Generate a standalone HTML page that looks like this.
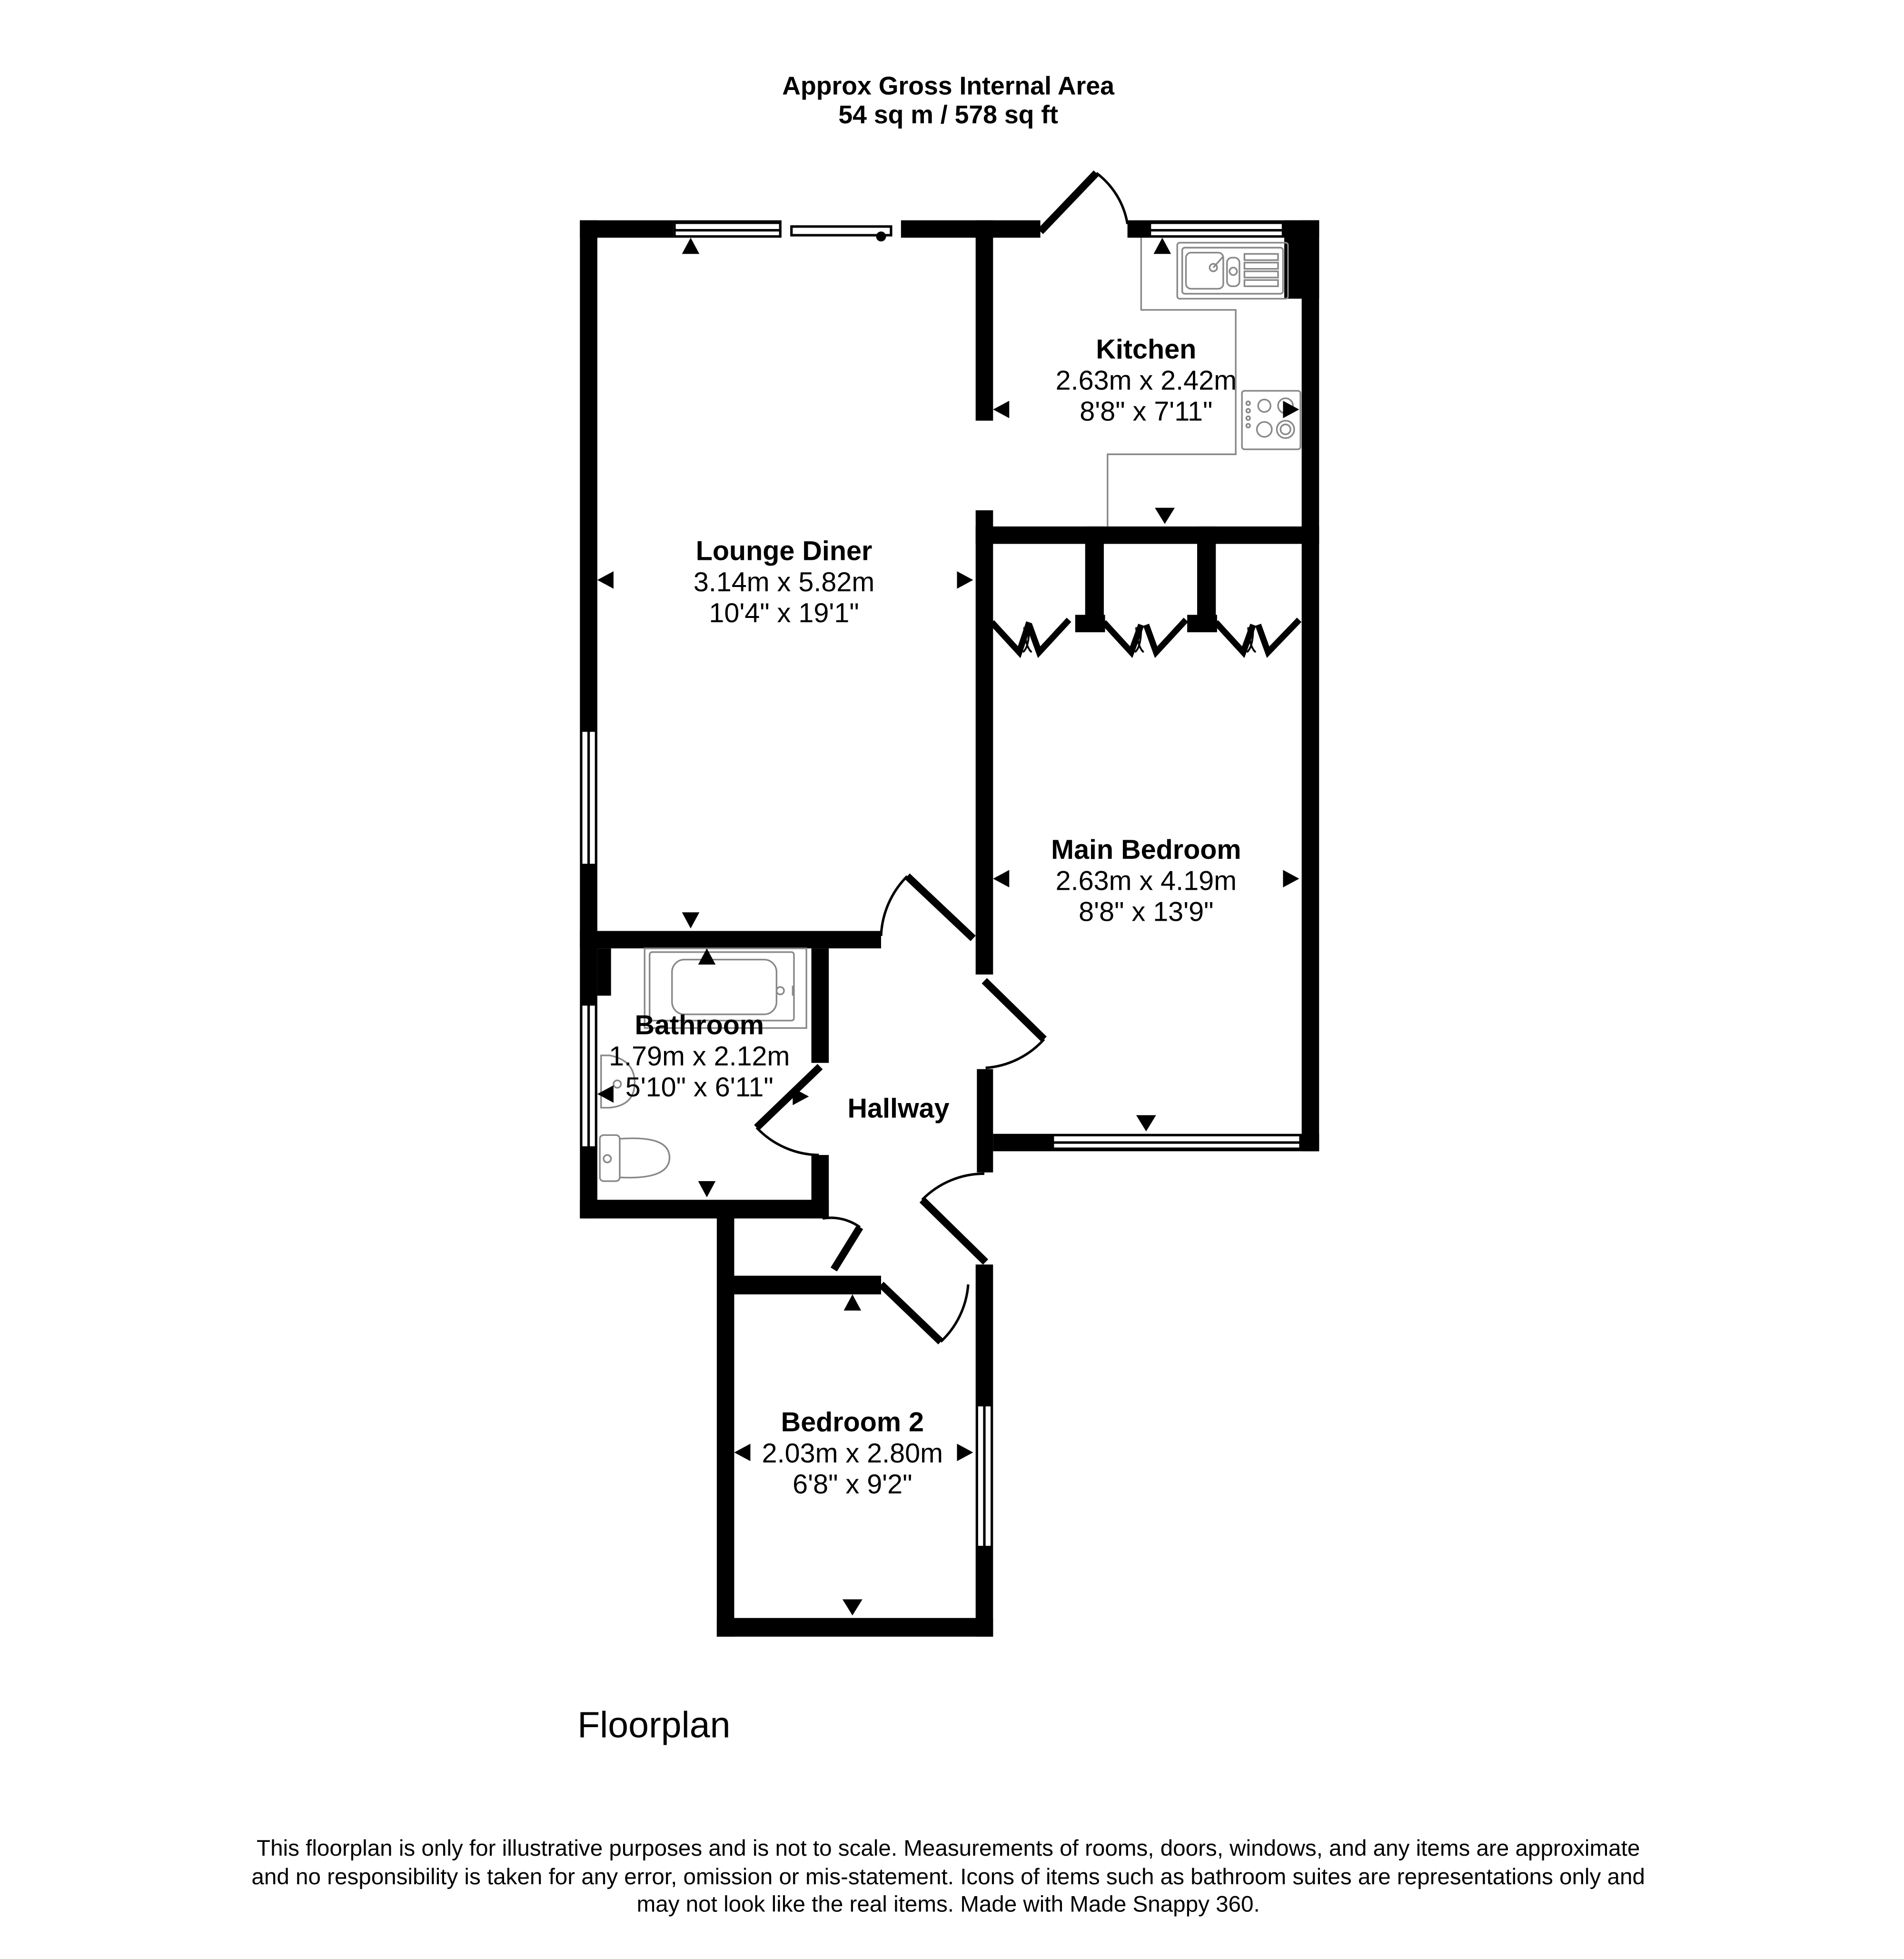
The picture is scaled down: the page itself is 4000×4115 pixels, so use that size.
<!DOCTYPE html>
<html><head><meta charset="utf-8"><style>
html,body{margin:0;padding:0;background:#fff}
svg{display:block}
text{font-family:"Liberation Sans",Arial,sans-serif;fill:#000}
</style></head><body>
<svg width="4000" height="4115" viewBox="0 0 1530 1574" xmlns="http://www.w3.org/2000/svg">
<rect width="1530" height="1574" fill="#fff"/>
<g fill="#000">
<rect x="466" y="177" width="14" height="802"/>
<rect x="466" y="177" width="75" height="14"/>
<rect x="541" y="177" width="87" height="14"/>
<rect x="724" y="177" width="112" height="14"/>
<rect x="906" y="177" width="154" height="14"/>
<rect x="1032" y="177" width="28" height="63"/>
<rect x="1046" y="177" width="14" height="748"/>
<rect x="784" y="177" width="14" height="161"/>
<rect x="784" y="410" width="14" height="351"/>
<rect x="784" y="761" width="14" height="22"/>
<rect x="784" y="423" width="276" height="14"/>
<rect x="872" y="423" width="15" height="75"/>
<rect x="962" y="423" width="15" height="75"/>
<rect x="864" y="494" width="24" height="14"/>
<rect x="954" y="494" width="24" height="14"/>
<rect x="466" y="748" width="242" height="14"/>
<rect x="480" y="762" width="11" height="38"/>
<rect x="652" y="762" width="14" height="92"/>
<rect x="652" y="928" width="14" height="51"/>
<rect x="466" y="964" width="200" height="15"/>
<rect x="785" y="859" width="13" height="83"/>
<rect x="798" y="911" width="262" height="14"/>
<rect x="576" y="975" width="14" height="340"/>
<rect x="590" y="1025" width="118" height="15"/>
<rect x="576" y="1300" width="222" height="15"/>
<rect x="784" y="1016" width="14" height="299"/>
</g>
<g fill="#fff">
<rect x="543" y="180" width="83" height="4"/><rect x="543" y="186" width="83" height="3"/>
<rect x="925" y="180" width="105" height="4"/><rect x="925" y="186" width="105" height="3"/>
<rect x="468" y="588" width="4" height="106"/><rect x="474" y="588" width="4" height="106"/>
<rect x="468" y="808" width="4" height="113"/><rect x="474" y="808" width="4" height="113"/>
<rect x="847" y="913" width="197" height="4"/><rect x="847" y="919" width="197" height="3"/>
<rect x="786" y="1130" width="4" height="112"/><rect x="792" y="1130" width="4" height="112"/>
</g>
<rect x="636" y="182" width="80" height="7" fill="#fff" stroke="#000" stroke-width="2"/>
<circle cx="708" cy="190" r="4" fill="#000"/>
<g stroke="#000" fill="none">
<line x1="836" y1="186" x2="881" y2="139" stroke-width="6"/>
<path d="M881 139 A64 64 0 0 1 906 180" stroke-width="2"/>
<line x1="782" y1="754" x2="729" y2="704" stroke-width="6"/>
<path d="M729 704 A72 72 0 0 0 708 752" stroke-width="2"/>
<line x1="791" y1="788" x2="839" y2="835" stroke-width="6"/>
<path d="M839 835 A70 70 0 0 1 792 858" stroke-width="2"/>
<line x1="659" y1="857" x2="608" y2="906" stroke-width="6"/>
<path d="M608 906 A70 70 0 0 0 658 928" stroke-width="2"/>
<line x1="741" y1="964" x2="792" y2="1014" stroke-width="6"/>
<path d="M741 964 A70 70 0 0 1 791 943" stroke-width="2"/>
<line x1="708" y1="1032" x2="756" y2="1078" stroke-width="6"/>
<path d="M756 1078 A70 70 0 0 0 778 1032" stroke-width="2"/>
<line x1="691" y1="986" x2="670" y2="1020" stroke-width="6"/>
<path d="M661 979 A40 40 0 0 1 691 986" stroke-width="2"/>
<g stroke-width="5">
<polyline points="797,500 819,524 827,500"/><polyline points="827,502 835,524 859,498"/>
<polyline points="887,500 909,524 917,502"/><polyline points="921,502 929,524 953,498"/>
<polyline points="977,500 999,524 1007,502"/><polyline points="1011,502 1019,524 1044,498"/>
</g>
<g stroke-width="1.5">
<path d="M823 504 Q824 520 829 524 M827 504 Q827 520 822 524"/>
<path d="M913 504 Q914 520 919 524 M917 504 Q917 520 912 524"/>
<path d="M1003 504 Q1004 520 1009 524 M1007 504 Q1007 520 1002 524"/>
</g>
</g>
<g stroke="#888" fill="none" stroke-width="1.3">
<polyline points="917,191 917,249 993,249 993,365 890,365 890,423"/>
<rect x="946" y="195" width="89" height="45" rx="2"/>
<rect x="950" y="199" width="81" height="37" rx="2"/>
<rect x="953" y="203" width="30" height="29" rx="4"/>
<rect x="986" y="207" width="10" height="23" rx="4"/>
<circle cx="975" cy="215" r="3"/><circle cx="991" cy="218" r="3"/>
<line x1="975" y1="215" x2="983" y2="206"/>
<rect x="1000" y="204" width="27" height="5"/><rect x="1000" y="211" width="27" height="5"/><rect x="1000" y="218" width="27" height="5"/><rect x="1000" y="225" width="27" height="5"/>
<rect x="998" y="314" width="47" height="47" rx="2"/>
<circle cx="1016" cy="326" r="5"/><circle cx="1033" cy="326" r="6"/>
<circle cx="1016" cy="345" r="6"/><circle cx="1033" cy="345" r="7"/><circle cx="1033" cy="345" r="4"/>
<circle cx="1003" cy="324" r="1.5"/><circle cx="1003" cy="330" r="1.5"/><circle cx="1003" cy="336" r="1.5"/><circle cx="1003" cy="342" r="1.5"/>
<rect x="518" y="762" width="130" height="64"/>
<rect x="522" y="765" width="116" height="55" rx="2"/>
<rect x="540" y="771" width="84" height="44" rx="10"/>
<circle cx="627" cy="796" r="3"/>
<line x1="637" y1="792" x2="637" y2="800"/>
<path d="M483 848 L490 848 Q510 852 510 870 Q510 888 490 890 L483 890 Z"/>
<circle cx="496" cy="871" r="3"/>
<rect x="482" y="912" width="16" height="37" rx="3"/>
<path d="M498 915 Q538 912 538 930 Q538 948 498 946"/>
<circle cx="488" cy="931" r="3"/>
</g>
<g fill="#000">
<path d="M555 191 l-7 13 h14z"/>
<path d="M934 191 l-7 13 h14z"/>
<path d="M798 329 l13 -7 v14z"/>
<path d="M1044 329 l-13 -7 v14z"/>
<path d="M936 421 l-8 -13 h16z"/>
<path d="M480 466 l13 -7 v14z"/>
<path d="M782 466 l-13 -7 v14z"/>
<path d="M555 746 l-7 -13 h14z"/>
<path d="M568 762 l-7 13 h14z"/>
<path d="M798 706 l13 -7 v14z"/>
<path d="M1044 706 l-13 -7 v14z"/>
<path d="M921 909 l-8 -13 h16z"/>
<path d="M480 879 l13 -7 v14z"/>
<path d="M650 881 l-13 -7 v14z"/>
<path d="M568 962 l-7 -13 h14z"/>
<path d="M685 1040 l-7 13 h14z"/>
<path d="M590 1167 l13 -7 v14z"/>
<path d="M782 1167 l-13 -7 v14z"/>
<path d="M685 1298 l-8 -13 h16z"/>
</g>
<g text-anchor="middle">
<text x="762" y="76" font-size="20.5" font-weight="bold">Approx Gross Internal Area</text>
<text x="762" y="99" font-size="20.5" font-weight="bold">54 sq m / 578 sq ft</text>
<text x="921" y="288" font-size="22" font-weight="bold">Kitchen</text>
<text x="921" y="313" font-size="22">2.63m x 2.42m</text>
<text x="921" y="338" font-size="22">8'8" x 7'11"</text>
<text x="630" y="450" font-size="22" font-weight="bold">Lounge Diner</text>
<text x="630" y="475" font-size="22">3.14m x 5.82m</text>
<text x="630" y="500" font-size="22">10'4" x 19'1"</text>
<text x="921" y="690" font-size="22" font-weight="bold">Main Bedroom</text>
<text x="921" y="715" font-size="22">2.63m x 4.19m</text>
<text x="921" y="740" font-size="22">8'8" x 13'9"</text>
<text x="562" y="831" font-size="22" font-weight="bold">Bathroom</text>
<text x="562" y="856" font-size="22">1.79m x 2.12m</text>
<text x="562" y="881" font-size="22">5'10" x 6'11"</text>
<text x="722" y="898" font-size="22" font-weight="bold">Hallway</text>
<text x="685" y="1150" font-size="22" font-weight="bold">Bedroom 2</text>
<text x="685" y="1175" font-size="22">2.03m x 2.80m</text>
<text x="685" y="1200" font-size="22">6'8" x 9'2"</text>
<text x="762" y="1491" font-size="18.2">This floorplan is only for illustrative purposes and is not to scale. Measurements of rooms, doors, windows, and any items are approximate</text>
<text x="762" y="1514" font-size="18.2">and no responsibility is taken for any error, omission or mis-statement. Icons of items such as bathroom suites are representations only and</text>
<text x="762" y="1536" font-size="18.2">may not look like the real items. Made with Made Snappy 360.</text>
</g>
<text x="464" y="1396" font-size="29.5">Floorplan</text>
</svg>
</body></html>
